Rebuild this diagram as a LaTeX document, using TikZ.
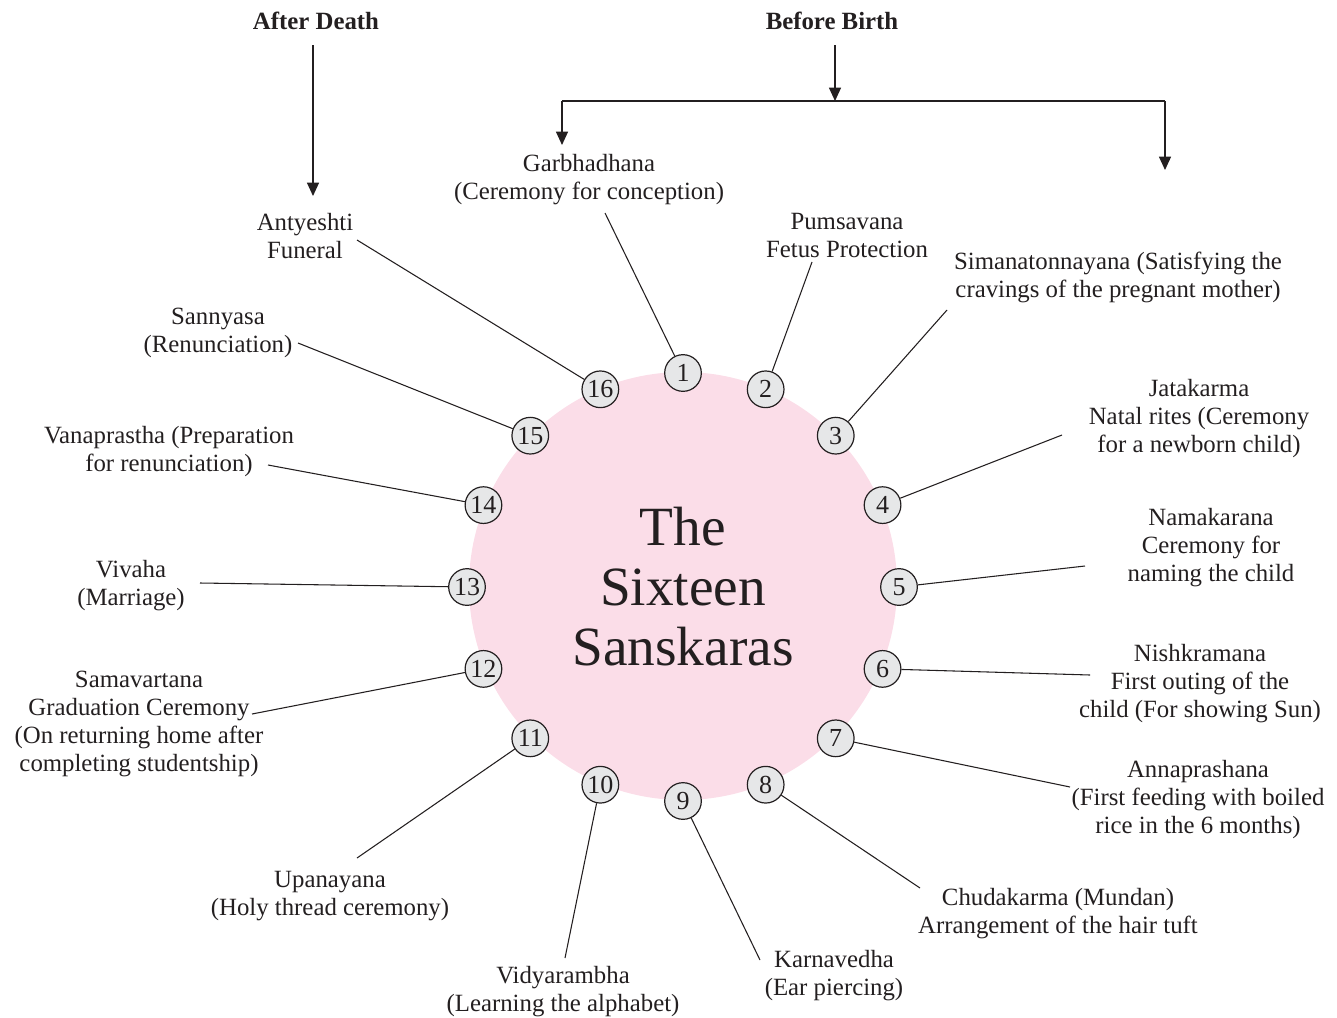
\documentclass[tikz,border=0pt]{standalone}
\usepackage{fontspec}
\setmainfont{Liberation Serif}
\usetikzlibrary{arrows.meta,calc}
\definecolor{ink}{HTML}{231F20}
\definecolor{petal}{HTML}{FBDDE8}
\definecolor{disc}{HTML}{E6E7E8}
\begin{document}
\begin{tikzpicture}[x=0.75pt,y=-0.75pt,
  txt/.style={align=center,font=\fontsize{18.6}{21}\selectfont,text=ink,inner sep=0pt,yshift=-2.2pt},
  head/.style={font=\fontsize{18.6}{21}\selectfont\bfseries,text=ink,inner sep=0pt},
  num/.style={circle,draw=ink,line width=0.9pt,fill=disc,minimum size=27.5pt,inner sep=0pt,
    font=\fontsize{19.5}{19.5}\selectfont,text=ink},
  lead/.style={draw=ink,line width=0.8pt},
  arr/.style={draw=ink,line width=0.9pt,-{Triangle[length=10pt,width=9pt]}}]
\useasboundingbox (0,0) rectangle (1337,1017);

% central disc and title
\node[circle,fill=petal,minimum size=321pt,inner sep=0pt] (core) at (683,586) {};
\node[align=center,font=\fontsize{41.5}{45}\selectfont,text=ink,inner sep=0pt] (title) at (683,587)
  {The\\Sixteen\\Sanskaras};

% numbered discs around the centre
\foreach \i in {1,...,16}{
  \pgfmathsetmacro{\ang}{90-(\i-1)*22.5}
  \node[num] (c\i) at ($(683,587)+({216*cos(\ang)},{-214*sin(\ang)})$) {\i};
}

% headings and arrows
\node[head] (death) at (316,21) {After Death};
\node[head] (birth) at (832,21) {Before Birth};
\coordinate (dtop) at (313,45);
\coordinate (dend) at (313,196);
\coordinate (btop) at (835,45);
\coordinate (bmid) at (835,101);
\coordinate (bl) at (562,101);
\coordinate (br) at (1165,101);
\coordinate (blend) at (562,145);
\coordinate (brend) at (1165,170);
\draw[arr] (dtop) -- (dend);
\draw[arr] (btop) -- (bmid);
\draw[draw=ink,line width=0.9pt] (bl) -- (br);
\draw[arr] (bl) -- (blend);
\draw[arr] (br) -- (brend);

% labels
\node[txt] (l1) at (589,177) {Garbhadhana\\(Ceremony for conception)};
\node[txt] (l2) at (847,233) {Pumsavana\\Fetus Protection};
\node[txt] (l3) at (1118,275) {Simanatonnayana (Satisfying the\\cravings of the pregnant mother)};
\node[txt] (l4) at (1199,416) {Jatakarma\\Natal rites (Ceremony\\for a newborn child)};
\node[txt] (l5) at (1211,545) {Namakarana\\Ceremony for\\naming the child};
\node[txt] (l6) at (1200,681) {Nishkramana\\First outing of the\\child (For showing Sun)};
\node[txt] (l7) at (1198,797) {Annaprashana\\(First feeding with boiled\\rice in the 6 months)};
\node[txt] (l8) at (1058,911) {Chudakarma (Mundan)\\Arrangement of the hair tuft};
\node[txt] (l9) at (834,973) {Karnavedha\\(Ear piercing)};
\node[txt] (l10) at (563,989) {Vidyarambha\\(Learning the alphabet)};
\node[txt] (l11) at (330,893) {Upanayana\\(Holy thread ceremony)};
\node[txt] (l12) at (139,721) {Samavartana\\Graduation Ceremony\\(On returning home after\\completing studentship)};
\node[txt] (l13) at (131,583) {Vivaha\\(Marriage)};
\node[txt] (l14) at (169,449) {Vanaprastha (Preparation\\for renunciation)};
\node[txt] (l15) at (218,330) {Sannyasa\\(Renunciation)};
\node[txt] (l16) at (305,233) {Antyeshti\\Funeral};

% leader ends beside the labels
\coordinate (e1) at (605,213);
\coordinate (e2) at (812,262);
\coordinate (e3) at (947,310);
\coordinate (e4) at (1062,435);
\coordinate (e5) at (1085,566);
\coordinate (e6) at (1090,675);
\coordinate (e7) at (1070,787);
\coordinate (e8) at (920,888);
\coordinate (e9) at (760,960);
\coordinate (e10) at (565,958);
\coordinate (e11) at (357,858);
\coordinate (e12) at (252,714);
\coordinate (e13) at (200,583);
\coordinate (e14) at (268,465);
\coordinate (e15) at (298,343);
\coordinate (e16) at (357,240);
\foreach \i in {1,...,16}{\draw[lead] (c\i) -- (e\i);}
\end{tikzpicture}
\end{document}
